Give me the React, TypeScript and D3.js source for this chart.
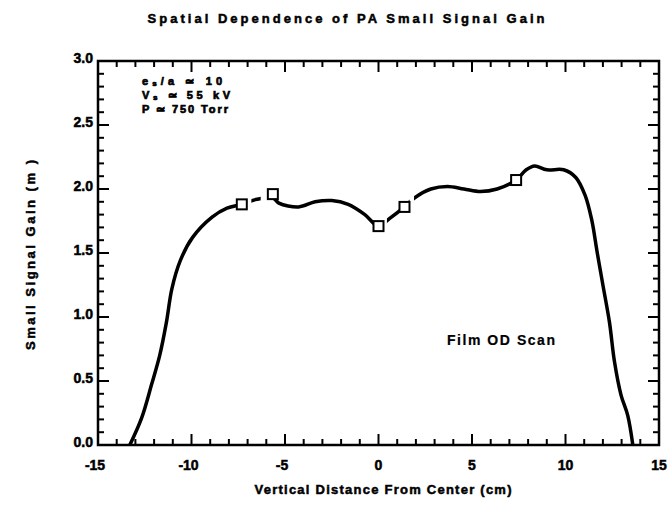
import React from 'react'
import * as d3 from 'd3'

const width = 671
const height = 507
const margin = { left: 98, right: 8, top: 61, bottom: 61 }

// measured profile of the gain across the scan
const curveX = [-13.3, -12.67, -12.14, -11.7, -11.34, -11.05, -10.6, -9.95, -8.9, -8.1, -7.31, -6.5, -5.65, -5.33, -4.27, -3.39, -2.5, -1.62, -0.73, 0, 0.6, 1.39, 1.92, 2.8, 3.69, 4.57, 5.46, 6.34, 7.36, 7.9, 8.35, 9.0, 9.9, 10.55, 11.05, 11.4, 11.7, 12.0, 12.35, 12.62, 12.97, 13.33, 13.6]
const curveY = [0, 0.21, 0.47, 0.7, 0.96, 1.22, 1.44, 1.62, 1.78, 1.85, 1.88, 1.92, 1.93, 1.89, 1.86, 1.9, 1.91, 1.88, 1.8, 1.71, 1.77, 1.86, 1.93, 2.0, 2.02, 2.0, 1.98, 2.0, 2.07, 2.15, 2.18, 2.15, 2.15, 2.09, 1.95, 1.76, 1.5, 1.25, 0.96, 0.65, 0.39, 0.23, 0]

// square markers on the scan
const markerX = [-7.31, -5.65, 0, 1.39, 7.36]
const markerY = [1.88, 1.96, 1.71, 1.86, 2.07]

// x ranges where the plotted line is broken
const gapStart = [-7.05, -6.3, 0.27, 1.66]
const gapEnd = [-6.8, -5.9, 0.45, 1.9]

const xTicks = [-15, -10, -5, 0, 5, 10, 15]
const yTicks = [0, 0.5, 1.0, 1.5, 2.0, 2.5, 3.0]

const notes = ['/a \u2243 10', ' \u2243 55 kV', 'P \u2243 750 Torr']

const font = 'Liberation Sans, Arial, sans-serif'

function App() {
  const iw = width - margin.left - margin.right
  const ih = height - margin.top - margin.bottom
  const x = d3.scaleLinear().domain([-15, 15]).range([0, iw - 4])
  const y = d3.scaleLinear().domain([0, 3]).range([ih - 1, 0])

  const pts = curveX.map((d, i) => [d, curveY[i]] as [number, number])
  const line = d3
    .line<[number, number]>()
    .x((d) => x(d[0]))
    .y((d) => y(d[1]))
    .curve(d3.curveCatmullRom.alpha(0.5))

  const xMinor = d3.range(-15, 16, 1)
  const yMinor = d3.range(0, 31, 1).map((d) => d / 10)
  const x0 = x(-15)
  const x1 = x(15)
  const y0 = y(0)
  const y1 = y(3)

  const txt = { fontFamily: font, fontWeight: 700, stroke: '#000', strokeWidth: 0.5 }

  return (
    <svg width={width} height={height} style={{ position: 'absolute', left: 0, top: 0, background: '#fff' }}>
      <text x={346} y={23} textAnchor="middle" fontSize={13} textLength={397} lengthAdjust="spacing" {...txt}>
        Spatial Dependence of PA Small Signal Gain
      </text>
      <text x={383} y={494} textAnchor="middle" fontSize={13} textLength={257} lengthAdjust="spacing" {...txt}>
        Vertical Distance From Center (cm)
      </text>
      <text transform="translate(35,255) rotate(-90)" textAnchor="middle" fontSize={13} textLength={190} lengthAdjust="spacing" {...txt}>
        Small Signal Gain (m   )
      </text>
      <g transform={`translate(${margin.left},${margin.top})`}>
        <defs>
          <mask id="gaps">
            <rect x={-10} y={-10} width={iw + 20} height={ih + 20} fill="#fff" />
            {gapStart.map((g, i) => (
              <rect key={i} x={x(g)} width={x(gapEnd[i]) - x(g)} y={0} height={ih} fill="#000" />
            ))}
          </mask>
        </defs>
        {/* frame */}
        <rect x={x0} y={y1} width={x1 - x0} height={y0 - y1} fill="none" stroke="#000" strokeWidth={2.5} />
        {xMinor.map((t) => {
          const len = t % 5 === 0 ? 11 : 6
          return (
            <g key={'x' + t}>
              <line x1={x(t)} x2={x(t)} y1={y0} y2={y0 - len} stroke="#000" strokeWidth={2} />
              <line x1={x(t)} x2={x(t)} y1={y1} y2={y1 + len} stroke="#000" strokeWidth={2} />
            </g>
          )
        })}
        {yMinor.map((t) => {
          const len = Math.round(t * 10) % 5 === 0 ? 11 : 6
          return (
            <g key={'y' + t}>
              <line x1={x0} x2={x0 + len} y1={y(t)} y2={y(t)} stroke="#000" strokeWidth={2} />
              <line x1={x1} x2={x1 - len} y1={y(t)} y2={y(t)} stroke="#000" strokeWidth={2} />
            </g>
          )
        })}
        {xTicks.map((t) => (
          <text key={'xl' + t} x={x(t) + (t < 0 ? -3 : 0)} y={y0 + 25} textAnchor="middle" fontSize={14} {...txt}>
            {t < 0 ? '-' + Math.abs(t) : t}
          </text>
        ))}
        {yTicks.map((t) => (
          <text key={'yl' + t} x={x0 - 5} y={y(t) + 2} textAnchor="end" fontSize={14} {...txt}>
            {t.toFixed(1)}
          </text>
        ))}
        <path d={line(pts) ?? ''} fill="none" stroke="#000" strokeWidth={3.5} strokeLinejoin="round" mask="url(#gaps)" />
        {markerX.map((m, i) => (
          <rect key={'m' + i} x={x(m) - 5} y={y(markerY[i]) - 5} width={10} height={10} fill="#fff" stroke="#000" strokeWidth={2} />
        ))}
        <g fontSize={11} {...txt} strokeWidth={0.7}>
          <text x={44} y={24} textLength={80} lengthAdjust="spacing">
            e<tspan fontSize={8} dy={1}>s</tspan>
            <tspan dy={-1}>{notes[0]}</tspan>
          </text>
          <text x={44} y={38} textLength={88} lengthAdjust="spacing">
            V<tspan fontSize={8} dy={1}>s</tspan>
            <tspan dy={-1}>{notes[1]}</tspan>
          </text>
          <text x={44} y={52} textLength={86} lengthAdjust="spacing">
            {notes[2]}
          </text>
        </g>
        <text x={349} y={284} fontSize={14} textLength={108} lengthAdjust="spacing" {...txt} strokeWidth={0.2}>
          Film OD Scan
        </text>
      </g>
    </svg>
  )
}

export default App
